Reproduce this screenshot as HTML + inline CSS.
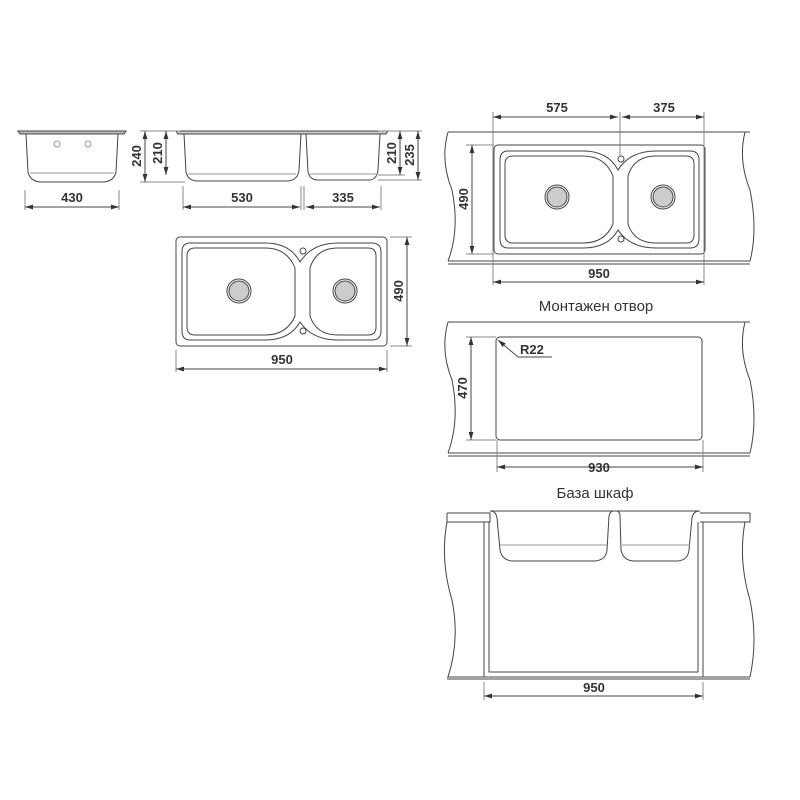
<!DOCTYPE html>
<html><head><meta charset="utf-8"><style>
html,body{margin:0;padding:0;background:#fff;}
svg{display:block;}
text{font-family:"Liberation Sans",sans-serif;fill:#333;}
.b{font-weight:bold;font-size:13px;}
</style></head><body>
<svg width="800" height="800" viewBox="0 0 800 800" xmlns="http://www.w3.org/2000/svg">
<defs>
<marker id="a" viewBox="0 0 10 6" refX="10" refY="3" markerWidth="8" markerHeight="5" orient="auto-start-reverse"><path d="M0,0L10,3L0,6z" fill="#333"/></marker>
</defs>
<g fill="none" stroke="#444" stroke-width="1">
<!-- left side view -->
<path d="M18,131 L126,131 L124,134 L20,134 Z" fill="#bbb"/>
<path d="M26,134 L28,172 Q30,181 40,182 L104,182 Q114,181 116,172 L118,134"/>
<path d="M30,173 L114,173" stroke="#999"/>
<circle cx="57" cy="144" r="3" stroke="#999"/><circle cx="88" cy="144" r="3" stroke="#999"/>
<line x1="25" y1="190" x2="25" y2="210" stroke="#888"/><line x1="119" y1="190" x2="119" y2="210" stroke="#888"/>
<line x1="25" y1="207" x2="119" y2="207" marker-start="url(#a)" marker-end="url(#a)"/>
<!-- middle side view -->
<path d="M176,131 L388,131 L386,134 L178,134 Z" fill="#ccc"/>
<path d="M184,134 L186,172 Q188,181 198,181 L288,181 Q298,180 299,170 L301,134"/>
<path d="M306,134 L308,172 Q310,180 318,180 L370,180 Q377,179 378,170 L380,134"/>
<path d="M188,174 L296,174 M310,174 L376,174" stroke="#999"/>
<line x1="140" y1="131" x2="180" y2="131" stroke="#888"/><line x1="140" y1="182" x2="185" y2="182" stroke="#888"/>
<line x1="145" y1="131" x2="145" y2="182" marker-start="url(#a)" marker-end="url(#a)"/>
<line x1="166" y1="131" x2="166" y2="175" marker-start="url(#a)" marker-end="url(#a)"/>
<line x1="378" y1="131" x2="422" y2="131" stroke="#888"/><line x1="378" y1="175" x2="405" y2="175" stroke="#888"/><line x1="378" y1="180" x2="422" y2="180" stroke="#888"/>
<line x1="400" y1="131" x2="400" y2="175" marker-start="url(#a)" marker-end="url(#a)"/>
<line x1="418" y1="131" x2="418" y2="180" marker-start="url(#a)" marker-end="url(#a)"/>
<line x1="183" y1="186" x2="183" y2="210" stroke="#888"/><line x1="301" y1="186" x2="301" y2="210" stroke="#888"/><line x1="304" y1="186" x2="304" y2="210" stroke="#888"/><line x1="381" y1="186" x2="381" y2="210" stroke="#888"/>
<line x1="183" y1="207" x2="300" y2="207" marker-start="url(#a)" marker-end="url(#a)"/>
<line x1="306" y1="207" x2="380" y2="207" marker-start="url(#a)" marker-end="url(#a)"/>
<!-- top view -->
<rect x="176" y="237" width="211" height="109" rx="4"/>
<path d="M190,243 L265,243 Q290,243 300,262 Q312,243 338,243 L372,243 Q381,243 381,252 L381,331 Q381,340 372,340 L338,340 Q312,340 300,322 Q290,340 265,340 L190,340 Q182,340 182,331 L182,252 Q182,243 190,243 Z"/>
<path d="M195,248 L265,248 Q287,248 295,268 L295,316 Q287,335 265,335 L195,335 Q187,335 187,327 L187,256 Q187,248 195,248 Z"/>
<path d="M338,248 Q316,248 310,268 L310,316 Q316,335 338,335 L368,335 Q376,335 376,327 L376,256 Q376,248 368,248 Z"/>
<circle cx="239" cy="291" r="12"/><circle cx="239" cy="291" r="10" fill="#ccc"/>
<circle cx="345" cy="291" r="12"/><circle cx="345" cy="291" r="10" fill="#ccc"/>
<circle cx="303" cy="251" r="3"/><circle cx="303" cy="331" r="3"/>
<line x1="390" y1="237" x2="412" y2="237" stroke="#888"/><line x1="390" y1="346" x2="412" y2="346" stroke="#888"/>
<line x1="407" y1="237" x2="407" y2="346" marker-start="url(#a)" marker-end="url(#a)"/>
<line x1="176" y1="350" x2="176" y2="372" stroke="#888"/><line x1="387" y1="350" x2="387" y2="372" stroke="#888"/>
<line x1="176" y1="369" x2="387" y2="369" marker-start="url(#a)" marker-end="url(#a)"/>
<!-- right top: counter 1 -->
<path d="M448,132 L750,132 M448,261 L750,261 M448,264 L750,264" />
<path d="M448,132 Q440,160 452,190 Q460,230 448,261" />
<path d="M745,132 Q738,160 750,190 Q758,230 750,261" />
<rect x="494" y="145" width="211" height="109" rx="4"/>
<path d="M508,151 L583,151 Q608,151 618,170 Q630,151 656,151 L690,151 Q699,151 699,160 L699,239 Q699,248 690,248 L656,248 Q630,248 618,230 Q608,248 583,248 L508,248 Q500,248 500,239 L500,160 Q500,151 508,151 Z"/>
<path d="M513,156 L583,156 Q605,156 613,176 L613,224 Q605,243 583,243 L513,243 Q505,243 505,235 L505,164 Q505,156 513,156 Z"/>
<path d="M656,156 Q634,156 628,176 L628,224 Q634,243 656,243 L686,243 Q694,243 694,235 L694,164 Q694,156 686,156 Z"/>
<circle cx="557" cy="197" r="12"/><circle cx="557" cy="197" r="10" fill="#ccc"/>
<circle cx="663" cy="197" r="12"/><circle cx="663" cy="197" r="10" fill="#ccc"/>
<circle cx="621" cy="159" r="3"/><circle cx="621" cy="239" r="3"/>
<line x1="493" y1="112" x2="493" y2="285" stroke="#888"/><line x1="704" y1="112" x2="704" y2="285" stroke="#888"/><line x1="620" y1="112" x2="620" y2="157" stroke="#888"/>
<line x1="493" y1="117" x2="618" y2="117" marker-start="url(#a)" marker-end="url(#a)"/>
<line x1="622" y1="117" x2="704" y2="117" marker-start="url(#a)" marker-end="url(#a)"/>
<line x1="466" y1="145" x2="494" y2="145" stroke="#888"/><line x1="466" y1="254" x2="494" y2="254" stroke="#888"/>
<line x1="472" y1="145" x2="472" y2="254" marker-start="url(#a)" marker-end="url(#a)"/>
<line x1="493" y1="282" x2="704" y2="282" marker-start="url(#a)" marker-end="url(#a)"/>
<!-- counter 2 -->
<path d="M448,322 L750,322 M448,453 L750,453 M448,456 L750,456" />
<path d="M448,322 Q440,350 452,380 Q460,420 448,453" />
<path d="M745,322 Q738,350 750,380 Q758,420 750,453" />
<rect x="496" y="337" width="206" height="103" rx="4"/>
<line x1="498" y1="340" x2="518" y2="357" marker-start="url(#a)"/><line x1="518" y1="357" x2="552" y2="357"/>
<line x1="466" y1="337" x2="496" y2="337" stroke="#888"/><line x1="466" y1="440" x2="496" y2="440" stroke="#888"/>
<line x1="471" y1="337" x2="471" y2="440" marker-start="url(#a)" marker-end="url(#a)"/>
<line x1="497" y1="440" x2="497" y2="472" stroke="#888"/><line x1="703" y1="440" x2="703" y2="472" stroke="#888"/>
<line x1="497" y1="467" x2="703" y2="467" marker-start="url(#a)" marker-end="url(#a)"/>
<!-- cabinet -->
<path d="M447,513 L490,513 L490,522 L447,522 M700,513 L750,513 M700,522 L750,522 L750,513" />
<path d="M447,513 L447,522 Q440,560 452,600 Q460,640 448,677" />
<path d="M745,522 Q738,560 750,600 Q758,640 750,677" />
<path d="M447,677 L750,677 M447,679 L750,679"/>
<path d="M484,522 L484,677 M489,522 L489,672 L698,672 L698,522 M703,522 L703,677"/>
<path d="M490,511 L700,511"/>
<path d="M490,511 Q496,511 497,518 L500,550 Q502,560 512,561 L595,561 Q606,560 607,550 L609,516 Q610,511 614,511 L616,511 Q620,511 620,516 L621,550 Q623,560 633,561 L678,561 Q688,560 689,550 L692,518 Q693,511 700,511"/>
<path d="M500,545 L607,545 M622,545 L690,545" stroke="#999"/>
<line x1="484" y1="682" x2="484" y2="700" stroke="#888"/><line x1="703" y1="682" x2="703" y2="700" stroke="#888"/>
<line x1="484" y1="696" x2="703" y2="696" marker-start="url(#a)" marker-end="url(#a)"/>
</g>
<text class="b" x="72" y="202" text-anchor="middle">430</text>
<text class="b" x="242" y="202" text-anchor="middle">530</text>
<text class="b" x="343" y="202" text-anchor="middle">335</text>
<text class="b" transform="translate(141,156) rotate(-90)" text-anchor="middle">240</text>
<text class="b" transform="translate(162,153) rotate(-90)" text-anchor="middle">210</text>
<text class="b" transform="translate(396,153) rotate(-90)" text-anchor="middle">210</text>
<text class="b" transform="translate(414,155) rotate(-90)" text-anchor="middle">235</text>
<text class="b" transform="translate(403,291) rotate(-90)" text-anchor="middle">490</text>
<text class="b" x="282" y="364" text-anchor="middle">950</text>
<text class="b" x="557" y="112" text-anchor="middle">575</text>
<text class="b" x="664" y="112" text-anchor="middle">375</text>
<text class="b" transform="translate(468,199) rotate(-90)" text-anchor="middle">490</text>
<text class="b" x="599" y="278" text-anchor="middle">950</text>
<text x="596" y="311" text-anchor="middle" font-size="15">Монтажен отвор</text>
<text class="b" x="520" y="354">R22</text>
<text class="b" transform="translate(467,388) rotate(-90)" text-anchor="middle">470</text>
<text class="b" x="599" y="472" text-anchor="middle">930</text>
<text x="595" y="498" text-anchor="middle" font-size="15">База шкаф</text>
<text class="b" x="594" y="692" text-anchor="middle">950</text>
</svg>
</body></html>
